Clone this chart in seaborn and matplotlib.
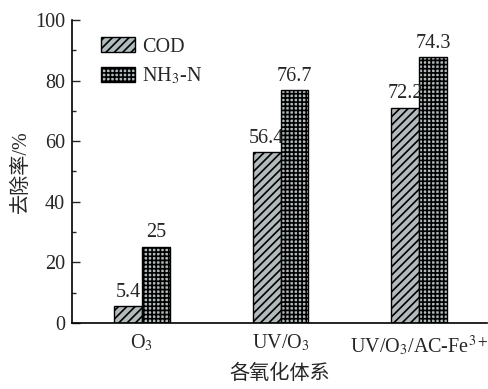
import matplotlib
matplotlib.use("Agg")
import matplotlib.pyplot as plt
import seaborn as sns
import pandas as pd
from matplotlib.patches import Patch
from matplotlib.ticker import MultipleLocator

# ---- data ----
systems = ["O$_3$", "UV/O$_3$", "UV/O$_3$/AC-Fe$^{3+}$"]
series = ["COD", "NH$_3$-N"]
cod_values = [5.6, 56.4, 71.1]
nh3_values = [25.2, 76.9, 87.7]
cod_labels = ["5.4", "56.4", "72.2"]
nh3_labels = ["25", "76.7", "74.3"]
y_ticks = [0, 20, 40, 60, 80, 100]

df = pd.DataFrame({
    "system": systems * 2,
    "series": [series[0]] * 3 + [series[1]] * 3,
    "value": cod_values + nh3_values,
})

sns.set_style("ticks")
plt.rcParams["font.family"] = ["Liberation Serif", "Noto Sans CJK SC"]
plt.rcParams["mathtext.fontset"] = "stix"
plt.rcParams["hatch.linewidth"] = 1.2
plt.rcParams["hatch.color"] = "#111111"

fill = "#b0bbbe"
fs = 14.5
fig = plt.figure(figsize=(4.88, 3.89), dpi=100)
ax = fig.add_axes([0.1475, 0.1697, 0.998 - 0.1475, 0.9486 - 0.1697])

sns.barplot(data=df, x="system", y="value", hue="series", order=systems,
            hue_order=series, palette=[fill, fill], width=0.4,
            edgecolor="black", linewidth=1.0, ax=ax, legend=False)

hatches = ["////", "++++"]
for cont, h in zip(ax.containers, hatches):
    for p in cont:
        p.set_hatch(h)

for cont, labs in zip(ax.containers, [cod_labels, nh3_labels]):
    ax.bar_label(cont, labels=labs, padding=3, fontsize=fs)

ax.set_xlim(-0.505, 2.49)
ax.set_ylim(0, 100)
ax.set_yticks(y_ticks)
ax.yaxis.set_minor_locator(MultipleLocator(10))
ax.tick_params(axis="y", which="major", direction="in", length=6, width=1,
               labelsize=fs, pad=5)
ax.tick_params(axis="y", which="minor", direction="in", length=3, width=1)
ax.tick_params(axis="x", length=0, labelsize=fs, pad=7)
for s in ["top", "right"]:
    ax.spines[s].set_visible(False)
for s in ["left", "bottom"]:
    ax.spines[s].set_linewidth(1.2)
    ax.spines[s].set_color("black")

ax.set_xlabel("各氧化体系", fontsize=fs, labelpad=5)
ax.set_ylabel("去除率/%", fontsize=fs, labelpad=3)

handles = [Patch(facecolor=fill, edgecolor="black", hatch=h, linewidth=1.0)
           for h in hatches]
ax.legend(handles, series, loc="upper left", bbox_to_anchor=(0.05, 0.97),
          frameon=False, fontsize=fs, handlelength=1.7, handleheight=0.75,
          handletextpad=0.35, labelspacing=0.45, borderaxespad=0)

fig.savefig("out.png", dpi=100)
